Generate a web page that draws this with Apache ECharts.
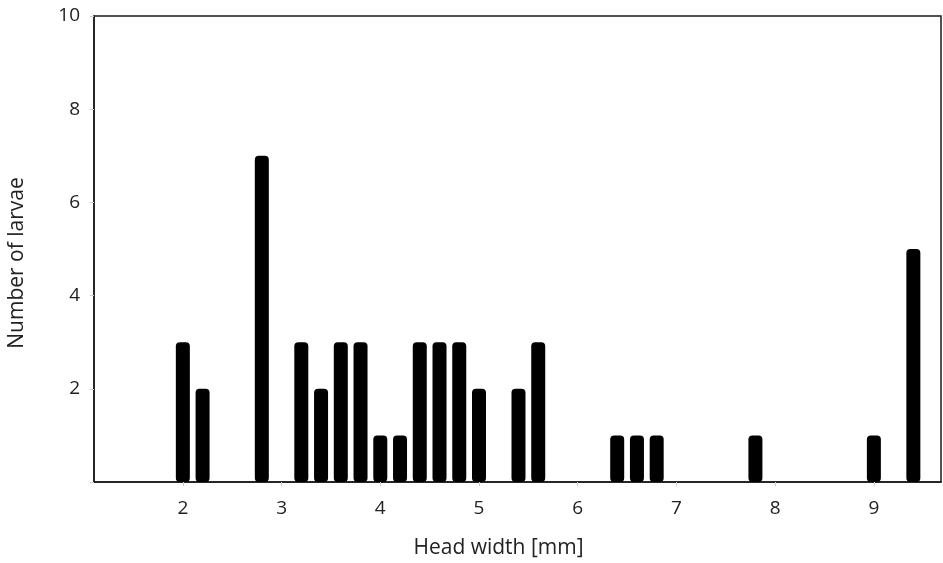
<!DOCTYPE html>
<html>
<head>
<meta charset="utf-8">
<script src="https://cdn.jsdelivr.net/npm/echarts@6/dist/echarts.min.js"></script>
<style>
  html, body { margin: 0; padding: 0; background: #fff; }
  #chart { width: 943px; height: 563px; }
</style>
</head>
<body>
<div id="chart"></div>
<script>
// head width classes (mm) and number of larvae in each
var headWidth = [2.0, 2.2, 2.8, 3.2, 3.4, 3.6, 3.8, 4.0, 4.2, 4.4, 4.6, 4.8, 5.0, 5.4, 5.6, 6.4, 6.6, 6.8, 7.8, 9.0, 9.4];
var larvae = [3, 2, 7, 3, 2, 3, 3, 1, 1, 3, 3, 3, 2, 2, 3, 1, 1, 1, 1, 1, 5];
var xTicks = [2, 3, 4, 5, 6, 7, 8, 9];

var chart = echarts.init(document.getElementById('chart'));
var font = 'Open Sans';

var data = [];
for (var i = 0; i < headWidth.length; i++) {
  data.push([headWidth[i], larvae[i]]);
}

chart.setOption({
  animation: false,
  grid: {
    left: 94, right: 2, top: 16, bottom: 81,
    outerBoundsMode: 'none',
    show: true, borderColor: '#1a1a1a', borderWidth: 1.5
  },
  xAxis: {
    type: 'value',
    min: 1.1,
    max: 9.68,
    name: 'Head width [mm]',
    nameLocation: 'middle',
    nameGap: 56,
    nameTextStyle: { fontFamily: font, fontSize: 21, color: '#222', padding: [0, 38, 0, 0] },
    axisLine: { show: true, lineStyle: { color: '#1a1a1a', width: 1.5 } },
    axisTick: { show: true, customValues: xTicks, length: 4, lineStyle: { color: '#ccc' } },
    axisLabel: { customValues: xTicks, margin: 17, fontFamily: font, fontSize: 19, color: '#222' },
    splitLine: { show: false }
  },
  yAxis: {
    type: 'value',
    min: 0,
    max: 10,
    interval: 2,
    name: 'Number of larvae',
    nameLocation: 'middle',
    nameGap: 66,
    nameTextStyle: { fontFamily: font, fontSize: 21, color: '#222', padding: [0, 28, 0, 0] },
    axisLine: { show: true, lineStyle: { color: '#1a1a1a', width: 1.5 } },
    axisTick: { show: true, length: 4, lineStyle: { color: '#ccc' } },
    axisLabel: {
      margin: 14, fontFamily: font, fontSize: 19, color: '#222',
      formatter: function (v) { return v === 0 ? '' : v; }
    },
    splitLine: { show: false }
  },
  series: [{
    type: 'bar',
    data: data,
    barWidth: 14,
    itemStyle: { color: '#000', borderRadius: 4 }
  }]
});
</script>
</body>
</html>
